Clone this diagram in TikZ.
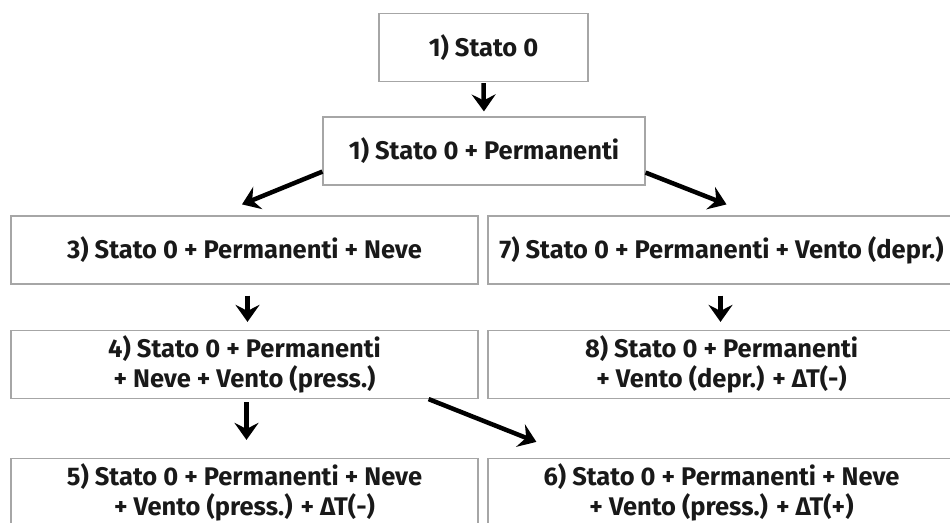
\documentclass[tikz,border=0pt]{standalone}
\usepackage{fontspec}
\setmainfont{Fira Sans}
\usepackage{tikz}
\usetikzlibrary{arrows.meta}

\begin{document}
\begin{tikzpicture}[x=1pt,y=-1pt,>={Stealth[length=17pt,width=24pt,inset=6pt]},
    stato/.style={draw=black!35,line width=1.2pt,minimum height=68pt,align=center,
        font=\fontsize{25.5}{30}\selectfont\bfseries,text=black!90,inner sep=0pt},
    freccia/.style={->,line width=4.5pt}]
        \useasboundingbox(0,0)rectangle(950,522);
        \node[stato,minimum width=209pt](s0)at(483.5,47.5){1) Stato 0};
        \node[stato,minimum width=322pt](s1)at(484,151){1) Stato 0 + Permanenti};
        \node[stato,minimum width=467pt](s3)at(244.5,250){3) Stato 0 + Permanenti + Neve};
        \node[stato,minimum width=467pt](s7)at(721.5,250){7) Stato 0 + Permanenti + Vento (depr.)};
        \node[stato,minimum width=467pt](s4)at(244.5,364.5){4) Stato 0 + Permanenti\\+ Neve + Vento (press.)};
        \node[stato,minimum width=467pt](s8)at(721.5,364.5){8) Stato 0 + Permanenti\\+ Vento (depr.) + ΔT(-)};
        \node[stato,minimum width=467pt](s5)at(244.5,492.5){5) Stato 0 + Permanenti + Neve\\+ Vento (press.) + ΔT(-)};
        \node[stato,minimum width=467pt](s6)at(721.5,492.5){6) Stato 0 + Permanenti + Neve\\+ Vento (press.) + ΔT(+)};
        \draw[freccia,shorten <=1pt,shorten >=5pt](s0.south)--(s1.north);
        \draw[freccia]([yshift=14pt]s1.south west)--([xshift=-2.5pt,yshift=11pt]s3.north);
        \draw[freccia]([yshift=13pt]s1.south east)--([xshift=5pt,yshift=11pt]s7.north);
        \draw[freccia,shorten <=11pt,shorten >=8pt]([xshift=3pt]s3.south)--([xshift=3pt]s4.north);
        \draw[freccia,shorten <=11pt,shorten >=8pt]([xshift=-1pt]s7.south)--([xshift=-1pt]s8.north);
        \draw[freccia,shorten <=3pt,shorten >=18pt]([xshift=2pt]s4.south)--([xshift=2pt]s5.north);
        \draw[freccia]([xshift=-50pt]s4.south east)--([xshift=49pt,yshift=16pt]s6.north west);
    \end{tikzpicture}
\end{document}
